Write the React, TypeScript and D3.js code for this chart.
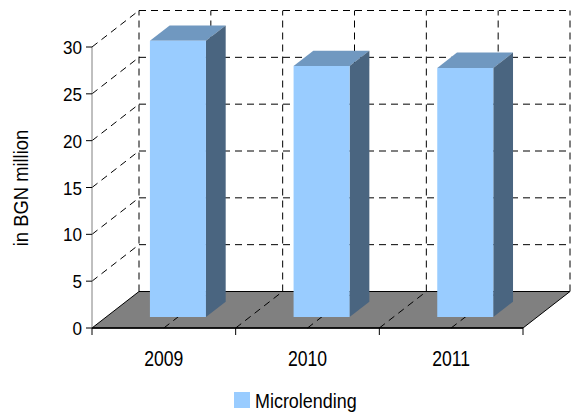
import React from "react";
import * as d3 from "d3";

const categories = ["2009", "2010", "2011"];
const values = [29.5, 26.8, 26.6];
const yTicks = [0, 5, 10, 15, 20, 25, 30];
const seriesName = "Microlending";
const axisTitle = "in BGN million";

const W = 573;
const H = 412;
const X0 = 92;
const X1 = 523;
const BASE = 328;
const DX = 47;
const DY = 36.5;
const Z0 = 0.3;
const Z1 = 0.72;
const FONT = "'Liberation Sans', Arial, sans-serif";

function SText({ x, y, sx, size, anchor, rotate, children }: any) {
  const t = `translate(${x},${y})${rotate ? ` rotate(${rotate})` : ""} scale(${sx},1)`;
  return (
    <text transform={t} textAnchor={anchor || "start"} fontSize={size} fill="#000" fontFamily={FONT}>
      {children}
    </text>
  );
}

export default function App() {
  const y = d3.scaleLinear().domain([0, 30]).range([0, 281]);
  const x = d3
    .scaleBand<string>()
    .domain(categories)
    .range([X0, X1])
    .paddingInner(0.61)
    .paddingOuter(0.305);
  const step = x.step();
  const P = (px: number, v: number, z: number): [number, number] => [
    px + z * DX,
    BASE - y(v) - z * DY,
  ];
  const pts = (a: [number, number][]) => a.map((p) => p.join(",")).join(" ");
  const dash = "7,5";
  const vmax = 30;

  const halfSteps = d3.range(1, categories.length * 2 + 1).map((i) => X0 + (i * step) / 2);
  const boundaries = d3.range(0, categories.length + 1).map((i) => X0 + i * step);

  return (
    <svg width={W} height={H} style={{ position: "absolute", left: 0, top: 0 }}>
      <rect width={W} height={H} fill="#fff" />
      {yTicks.slice(1).map((t) => {
        const a = P(X0, t, 1);
        const b = P(X1, t, 1);
        const c = P(X0, t, 0);
        return (
          <g key={"g" + t}>
            <line x1={a[0]} y1={a[1]} x2={b[0]} y2={b[1]} stroke="#000" strokeDasharray={dash} />
            <line x1={c[0]} y1={c[1]} x2={a[0]} y2={a[1]} stroke="#000" strokeDasharray={dash} />
          </g>
        );
      })}
      {[X0, ...halfSteps].map((px, i) => {
        const a = P(px, 0, 1);
        const b = P(px, vmax, 1);
        return <line key={"v" + i} x1={a[0]} y1={a[1]} x2={b[0]} y2={b[1]} stroke="#000" strokeDasharray={dash} />;
      })}
      <polygon
        points={pts([P(X0, 0, 0), P(X1, 0, 0), P(X1, 0, 1), P(X0, 0, 1)])}
        fill="#808080"
        stroke="#000"
        strokeWidth={1}
      />
      {d3.range(1, categories.length * 2).map((i) => {
        const px = X0 + (i * step) / 2;
        const a = P(px, 0, 0);
        const b = P(px, 0, 1);
        return <line key={"f" + i} x1={a[0]} y1={a[1]} x2={b[0]} y2={b[1]} stroke="#000" strokeDasharray={dash} />;
      })}
      {categories.map((c, i) => {
        const l = x(c)!;
        const r = l + x.bandwidth();
        const v = values[i];
        return (
          <g key={c}>
            <polygon points={pts([P(l, v, Z0), P(r, v, Z0), P(r, v, Z1), P(l, v, Z1)])} fill="#7098C0" />
            <polygon points={pts([P(r, 0, Z0), P(r, 0, Z1), P(r, v, Z1), P(r, v, Z0)])} fill="#4A6580" />
            <polygon points={pts([P(l, 0, Z0), P(r, 0, Z0), P(r, v, Z0), P(l, v, Z0)])} fill="#99CCFF" />
          </g>
        );
      })}
      <line x1={X0} y1={BASE} x2={X0} y2={BASE - y(vmax)} stroke="#808080" />
      {yTicks.map((t) => (
        <g key={"t" + t}>
          <line x1={X0 - 6} y1={BASE - y(t)} x2={X0} y2={BASE - y(t)} stroke="#000" />
          <SText x={X0 - 10} y={BASE - y(t) + 7} sx={0.9} size={19} anchor="end">
            {t}
          </SText>
        </g>
      ))}
      <line x1={X0} y1={BASE} x2={X1} y2={BASE} stroke="#000" strokeWidth={1.3} />
      {boundaries.map((px, i) => (
        <line key={"xt" + i} x1={px} y1={BASE} x2={px} y2={BASE + 7} stroke="#000" />
      ))}
      {categories.map((c) => (
        <SText key={"l" + c} x={x(c)! + x.bandwidth() / 2} y={366} sx={0.8} size={22} anchor="middle">
          {c}
        </SText>
      ))}
      <SText x={28} y={188} rotate={-90} sx={0.92} size={20} anchor="middle">
        {axisTitle}
      </SText>
      <rect x={234} y={392} width={16} height={16} fill="#99CCFF" />
      <SText x={255} y={407.5} sx={0.875} size={20.5}>
        {seriesName}
      </SText>
    </svg>
  );
}
